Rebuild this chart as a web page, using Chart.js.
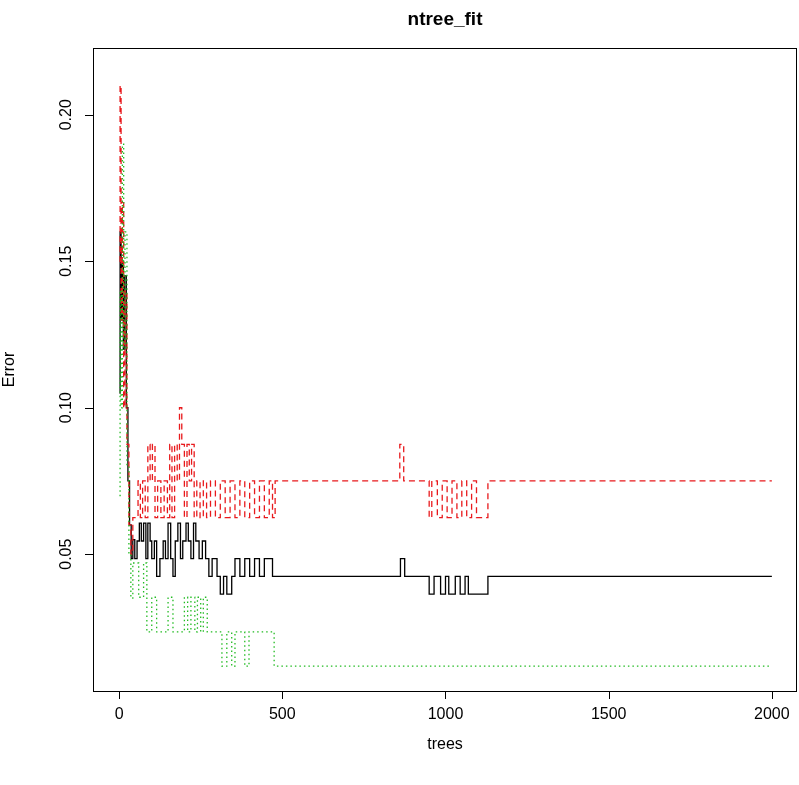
<!DOCTYPE html>
<html><head><meta charset="utf-8">
<script src="https://cdn.jsdelivr.net/npm/chart.js@4/dist/chart.umd.min.js"></script>
<style>html,body{margin:0;background:#fff}#wrap{width:799px;height:785px}</style>
</head><body><div id="wrap"><canvas id="c"></canvas></div>
<script>
// step breakpoints [tree, error]
const oobErr = [[1,0.105],[3,0.16],[6,0.13],[10,0.15],[13,0.12],[17,0.145],[22,0.1],[27,0.075],[32,0.06],[37,0.0485],[42,0.055],[48,0.0485],[55,0.0545],[62,0.0606],[68,0.0545],[75,0.0606],[82,0.0485],[88,0.0606],[95,0.0545],[100,0.0485],[108,0.0545],[115,0.0424],[125,0.0485],[135,0.0545],[142,0.0485],[150,0.0606],[158,0.0485],[165,0.0424],[172,0.0545],[180,0.0606],[188,0.0485],[195,0.0545],[205,0.0606],[212,0.0545],[220,0.0485],[228,0.0606],[235,0.0545],[245,0.0485],[255,0.0545],[265,0.0485],[275,0.0424],[285,0.0485],[300,0.0424],[310,0.0364],[320,0.0424],[330,0.0364],[345,0.0424],[355,0.0485],[370,0.0424],[385,0.0485],[400,0.0424],[415,0.0485],[430,0.0424],[445,0.0485],[470,0.0424],[862,0.0485],[875,0.0424],[950,0.0364],[965,0.0424],[985,0.0364],[1000,0.0424],[1010,0.0364],[1030,0.0424],[1045,0.0364],[1060,0.0424],[1070,0.0364],[1130,0.0424],[2000,0.0424]];
const class1Err = [[1,0.15],[3,0.21],[6,0.13],[10,0.17],[14,0.1],[18,0.14],[24,0.0875],[30,0.06],[36,0.05],[42,0.0625],[58,0.075],[65,0.0625],[72,0.075],[80,0.0625],[88,0.0875],[95,0.075],[102,0.0875],[110,0.0625],[118,0.075],[128,0.0625],[138,0.075],[148,0.0625],[155,0.0875],[162,0.0625],[170,0.0875],[178,0.075],[185,0.1],[192,0.0875],[200,0.0625],[208,0.0875],[215,0.075],[222,0.0875],[230,0.0625],[238,0.075],[248,0.0625],[258,0.075],[268,0.0625],[280,0.075],[295,0.0625],[310,0.075],[325,0.0625],[340,0.075],[355,0.0625],[370,0.075],[385,0.0625],[400,0.075],[415,0.0625],[430,0.075],[445,0.0625],[460,0.075],[470,0.0625],[478,0.075],[860,0.0875],[872,0.075],[950,0.0625],[958,0.075],[975,0.0625],[990,0.075],[1005,0.0625],[1020,0.075],[1035,0.0625],[1050,0.075],[1065,0.0625],[1080,0.075],[1095,0.0625],[1130,0.075],[2000,0.075]];
const class2Err = [[1,0.07],[3,0.14],[6,0.1],[10,0.19],[14,0.12],[18,0.16],[24,0.08],[30,0.05],[36,0.035],[42,0.047],[60,0.0353],[75,0.047],[85,0.0235],[100,0.0353],[115,0.0235],[150,0.0353],[165,0.0235],[200,0.0353],[210,0.0235],[220,0.0353],[232,0.0235],[240,0.0353],[250,0.0235],[258,0.0353],[270,0.0235],[315,0.0118],[330,0.0235],[345,0.0118],[355,0.0235],[385,0.0118],[398,0.0235],[475,0.0118],[2000,0.0118]];
const xTicks = [0, 500, 1000, 1500, 2000];
const yTicks = [0.05, 0.10, 0.15, 0.20];

const toPts = a => a.map(p => ({x: p[0], y: p[1]}));
const font = '"Liberation Sans", Arial, sans-serif';

const rAxes = {
  id: 'rAxes',
  afterDraw(ch) {
    const {ctx, chartArea: a, scales: {x, y}} = ch;
    ctx.save();
    ctx.strokeStyle = '#000'; ctx.lineWidth = 1; ctx.fillStyle = '#000';
    ctx.strokeRect(a.left + 0.5, a.top + 0.5, a.right - a.left - 1, a.bottom - a.top);
    ctx.font = '16px ' + font;
    // x axis
    ctx.beginPath();
    ctx.moveTo(x.getPixelForValue(xTicks[0]), a.bottom + 0.5);
    ctx.lineTo(x.getPixelForValue(xTicks[xTicks.length - 1]), a.bottom + 0.5);
    xTicks.forEach(t => { const px = Math.round(x.getPixelForValue(t)) + 0.5; ctx.moveTo(px, a.bottom); ctx.lineTo(px, a.bottom + 8); });
    ctx.stroke();
    ctx.textAlign = 'center'; ctx.textBaseline = 'top';
    xTicks.forEach(t => ctx.fillText(String(t), x.getPixelForValue(t), a.bottom + 16));
    ctx.fillText('trees', (a.left + a.right) / 2, 737);
    // y axis
    ctx.beginPath();
    ctx.moveTo(a.left + 0.5, y.getPixelForValue(yTicks[0]));
    ctx.lineTo(a.left + 0.5, y.getPixelForValue(yTicks[yTicks.length - 1]));
    yTicks.forEach(t => { const py = Math.round(y.getPixelForValue(t)) + 0.5; ctx.moveTo(a.left, py); ctx.lineTo(a.left - 8, py); });
    ctx.stroke();
    yTicks.forEach(t => {
      ctx.save(); ctx.translate(a.left - 18, y.getPixelForValue(t)); ctx.rotate(-Math.PI / 2);
      ctx.textAlign = 'center'; ctx.textBaseline = 'bottom'; ctx.fillText(t.toFixed(2), 0, 0); ctx.restore();
    });
    ctx.save(); ctx.translate(10, (a.top + a.bottom) / 2); ctx.rotate(-Math.PI / 2);
    ctx.textAlign = 'center'; ctx.textBaseline = 'middle'; ctx.fillText('Error', 0, 0); ctx.restore();
    ctx.font = 'bold 19px ' + font; ctx.textAlign = 'center'; ctx.textBaseline = 'middle';
    ctx.fillText('ntree_fit', (a.left + a.right) / 2, 20);
    ctx.restore();
  }
};

new Chart(document.getElementById('c'), {
  type: 'line',
  data: { datasets: [
    { data: toPts(class2Err), borderColor: '#22bb22', borderDash: [1.5, 3], borderWidth: 1.3 },
    { data: toPts(class1Err), borderColor: '#e8191c', borderDash: [6, 4], borderWidth: 1.3 },
    { data: toPts(oobErr), borderColor: '#000', borderWidth: 1.3 }
  ]},
  options: {
    responsive: true, maintainAspectRatio: false, animation: false,
    layout: { padding: { left: 85, right: 2, top: 48, bottom: 86 } },
    elements: { point: { radius: 0 }, line: { stepped: 'before', tension: 0 } },
    plugins: { legend: { display: false }, tooltip: { enabled: false } },
    scales: {
      x: { type: 'linear', min: -80, max: 2077, ticks: { display: false }, grid: { display: false }, border: { display: false } },
      y: { min: 0.0033, max: 0.2228, ticks: { display: false }, grid: { display: false }, border: { display: false } }
    }
  },
  plugins: [rAxes]
});
</script></body></html>
